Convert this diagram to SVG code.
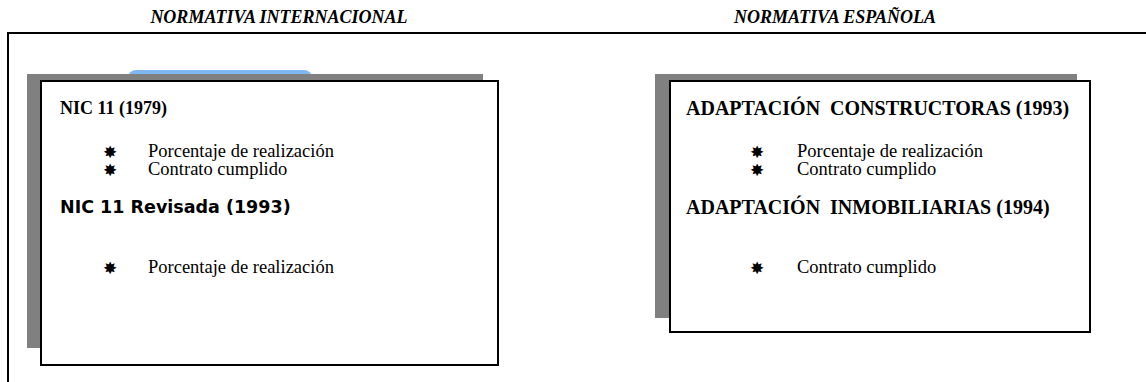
<svg xmlns="http://www.w3.org/2000/svg" width="1146" height="382" viewBox="0 0 1146 382">
<style>
.title{font-family:"Liberation Serif","Times New Roman",serif;font-weight:bold;font-style:italic;font-size:18px;fill:#000}
.head{font-family:"Liberation Serif","Times New Roman",serif;font-weight:bold;font-size:18px;fill:#000}
.headr{font-family:"Liberation Serif","Times New Roman",serif;font-weight:bold;font-size:20px;fill:#000;white-space:pre}
.heads{font-family:"DejaVu Sans",Verdana,sans-serif;font-weight:bold;font-size:17.5px;fill:#000}
.item{font-family:"Liberation Serif","Times New Roman",serif;font-size:18.5px;fill:#000}
.star{font-family:"DejaVu Sans",sans-serif;font-size:17px;fill:#000}
.shadow{fill:#808080}
.box{fill:#fff;stroke:#000;stroke-width:2}
.frame{stroke:#000;stroke-width:2;fill:none}
</style>
<rect width="1146" height="382" fill="#fff"/>
<g id="frame">
<path class="frame" d="M8,382 V33 H1146"/>
<text class="title" x="279" y="23" text-anchor="middle">NORMATIVA INTERNACIONAL</text>
<text class="title" x="835" y="23" text-anchor="middle">NORMATIVA ESPAÑOLA</text>
</g>
<g id="connectors"></g>
<g id="internacional">
<rect x="128" y="70" width="184" height="20" rx="8" fill="#7fb8f0"/>
<rect class="shadow" x="27" y="74" width="456" height="274"/>
<rect class="box" x="41" y="81" width="457" height="284"/>
<text class="head" x="60" y="114">NIC 11 (1979)</text>
<text class="star" x="103" y="158">✸</text>
<text class="item" x="148" y="157">Porcentaje de realización</text>
<text class="star" x="103" y="176">✸</text>
<text class="item" x="148" y="175">Contrato cumplido</text>
<text class="heads" x="60" y="213">NIC 11 Revisada (1993)</text>
<text class="star" x="103" y="274">✸</text>
<text class="item" x="148" y="273">Porcentaje de realización</text>
</g>
<g id="espanola">
<rect class="shadow" x="655" y="74" width="422" height="244"/>
<rect class="box" x="670" y="81" width="420" height="251"/>
<text class="headr" x="686" y="115" xml:space="preserve">ADAPTACIÓN  CONSTRUCTORAS (1993)</text>
<text class="star" x="750" y="158">✸</text>
<text class="item" x="797" y="157">Porcentaje de realización</text>
<text class="star" x="750" y="176">✸</text>
<text class="item" x="797" y="175">Contrato cumplido</text>
<text class="headr" x="686" y="214" xml:space="preserve">ADAPTACIÓN  INMOBILIARIAS (1994)</text>
<text class="star" x="750" y="274">✸</text>
<text class="item" x="797" y="273">Contrato cumplido</text>
</g>
</svg>
